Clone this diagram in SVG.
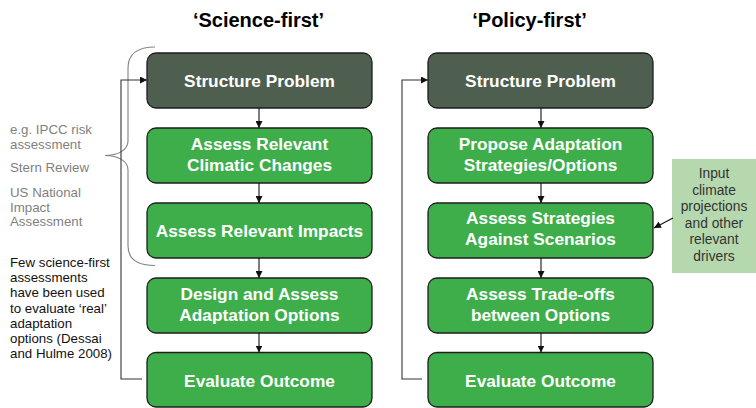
<svg xmlns="http://www.w3.org/2000/svg" width="756" height="408" viewBox="0 0 756 408">
<defs>
<marker id="ah" viewBox="0 0 10 10" refX="10" refY="5" markerWidth="7" markerHeight="7" markerUnits="userSpaceOnUse" orient="auto"><path d="M0,0 L10,5 L0,10 z" fill="#111"/></marker>
<style>
.box{stroke:#1e1e1e;stroke-width:1.3}
.dark{fill:#4f5f4f}
.green{fill:#3dae4a}
.bt{font-family:"Liberation Sans",Arial,sans-serif;font-weight:bold;font-size:17.3px;fill:#fff;text-anchor:middle}
.title{font-family:"Liberation Sans",Arial,sans-serif;font-weight:bold;font-size:20px;fill:#000;text-anchor:middle}
.note{font-family:"Liberation Sans",Arial,sans-serif;font-size:13.3px}
.gray{fill:#7f7f7f}
.blk{fill:#111}
.con{fill:none;stroke:#111;stroke-width:1.1}
.loop{fill:none;stroke:#333;stroke-width:1.1}
.side{font-family:"Liberation Sans",Arial,sans-serif;font-size:13.8px;fill:#333;text-anchor:middle}
</style>
</defs>
<rect width="756" height="408" fill="#fff"/>

<text class="title" x="258.5" y="27">‘Science-first’</text>
<text class="title" x="529.5" y="27">‘Policy-first’</text>

<g id="notes">
<text class="note gray" x="10" y="134">e.g. IPCC risk</text>
<text class="note gray" x="10" y="148.5">assessment</text>
<text class="note gray" x="10" y="171.5">Stern Review</text>
<text class="note gray" x="10" y="197">US National</text>
<text class="note gray" x="10" y="211.5">Impact</text>
<text class="note gray" x="10" y="226">Assessment</text>
<text class="note blk" x="10" y="267">Few science-first</text>
<text class="note blk" x="10" y="282.2">assessments</text>
<text class="note blk" x="10" y="297.4">have been used</text>
<text class="note blk" x="10" y="312.6">to evaluate ‘real’</text>
<text class="note blk" x="10" y="327.8">adaptation</text>
<text class="note blk" x="10" y="343">options (Dessai</text>
<text class="note blk" x="10" y="358.2">and Hulme 2008)</text>
</g>

<g id="bracket">
<path d="M155,47 C138,47 128,54 128,68 L128,141 C128,150 118,155.5 105,155.5 C118,155.5 128,161 128,170 L128,246 C128,259 138,265.5 155,265.5" fill="none" stroke="#808080" stroke-width="1.1"/>
</g>

<g id="s1"><rect class="box dark" x="147" y="53" width="225" height="55" rx="9"/><text class="bt" x="259.5" y="87">Structure Problem</text></g>
<g id="s2"><rect class="box green" x="147" y="128" width="225" height="55" rx="9"/><text class="bt" x="259.5" y="149.5">Assess Relevant</text><text class="bt" x="259.5" y="171">Climatic Changes</text></g>
<g id="s3"><rect class="box green" x="147" y="203" width="225" height="55" rx="9"/><text class="bt" x="259.5" y="237">Assess Relevant Impacts</text></g>
<g id="s4"><rect class="box green" x="147" y="278" width="225" height="55" rx="9"/><text class="bt" x="259.5" y="299.5">Design and Assess</text><text class="bt" x="259.5" y="321">Adaptation Options</text></g>
<g id="s5"><rect class="box green" x="147" y="352.5" width="225" height="54.5" rx="9"/><text class="bt" x="259.5" y="387">Evaluate Outcome</text></g>

<g id="p1"><rect class="box dark" x="428" y="53" width="225" height="55" rx="9"/><text class="bt" x="540.5" y="87">Structure Problem</text></g>
<g id="p2"><rect class="box green" x="428" y="128" width="225" height="55" rx="9"/><text class="bt" x="540.5" y="149.5">Propose Adaptation</text><text class="bt" x="540.5" y="171">Strategies/Options</text></g>
<g id="p3"><rect class="box green" x="428" y="203" width="225" height="55" rx="9"/><text class="bt" x="540.5" y="223.5">Assess Strategies</text><text class="bt" x="540.5" y="244.5">Against Scenarios</text></g>
<g id="p4"><rect class="box green" x="428" y="278" width="225" height="55" rx="9"/><text class="bt" x="540.5" y="299.5">Assess Trade-offs</text><text class="bt" x="540.5" y="321">between Options</text></g>
<g id="p5"><rect class="box green" x="428" y="352.5" width="225" height="54.5" rx="9"/><text class="bt" x="540.5" y="387">Evaluate Outcome</text></g>

<g id="input"><rect x="672" y="159" width="84" height="114" fill="#b6d8ae"/>
<text class="side" x="714" y="178">Input</text>
<text class="side" x="714" y="194.5">climate</text>
<text class="side" x="714" y="211">projections</text>
<text class="side" x="714" y="227.5">and other</text>
<text class="side" x="714" y="244">relevant</text>
<text class="side" x="714" y="260.5">drivers</text>
</g>

<g id="connectors">
<path class="con" d="M259,108 V128" marker-end="url(#ah)"/>
<path class="con" d="M259,183 V203" marker-end="url(#ah)"/>
<path class="con" d="M259,258 V278" marker-end="url(#ah)"/>
<path class="con" d="M259,333 V352.5" marker-end="url(#ah)"/>
<path class="con" d="M541,108 V128" marker-end="url(#ah)"/>
<path class="con" d="M541,183 V203" marker-end="url(#ah)"/>
<path class="con" d="M541,258 V278" marker-end="url(#ah)"/>
<path class="con" d="M541,333 V352.5" marker-end="url(#ah)"/>
<path class="loop" d="M142,379 H121 V80 H147" marker-end="url(#ah)"/>
<path class="loop" d="M422,379 H402 V80 H428" marker-end="url(#ah)"/>
<path class="con" d="M673,218 L654,228" marker-end="url(#ah)"/>
</g>
</svg>
